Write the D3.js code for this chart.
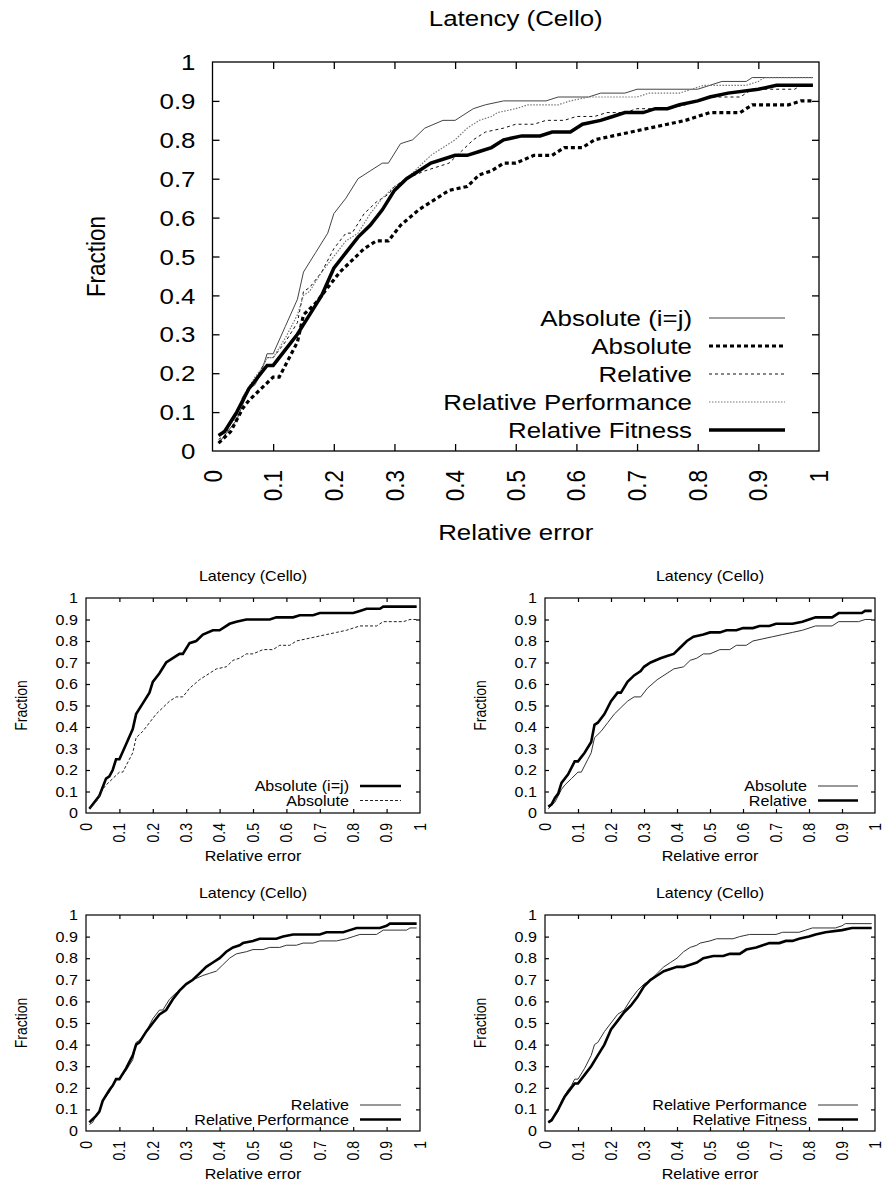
<!DOCTYPE html>
<html>
<head>
<meta charset="utf-8">
<script src="https://cdn.jsdelivr.net/npm/d3@7"></script>
<style>
  body { margin: 0; background: #fff; }
  svg { display: block; font-family: "Liberation Sans", Arial, Helvetica, sans-serif; }
</style>
</head>
<body>
<div id="chart"></div>
<script>
// tick values shared by every panel
const xTicks = [0, 0.1, 0.2, 0.3, 0.4, 0.5, 0.6, 0.7, 0.8, 0.9, 1];
const yTicks = [0, 0.1, 0.2, 0.3, 0.4, 0.5, 0.6, 0.7, 0.8, 0.9, 1];
const xTickLabels = ["0", "0.1", "0.2", "0.3", "0.4", "0.5", "0.6", "0.7", "0.8", "0.9", "1"];
const yTickLabels = ["0", "0.1", "0.2", "0.3", "0.4", "0.5", "0.6", "0.7", "0.8", "0.9", "1"];

// CDF of relative error, [x, fraction]
const absIJ = [[0.01,0.02],[0.04,0.08],[0.06,0.16],[0.07,0.17],[0.08,0.20],[0.09,0.25],[0.10,0.25],
  [0.12,0.32],[0.14,0.39],[0.15,0.46],[0.17,0.51],[0.19,0.56],[0.20,0.61],[0.22,0.65],[0.24,0.70],
  [0.26,0.72],[0.28,0.74],[0.29,0.74],[0.31,0.79],[0.33,0.80],[0.35,0.83],[0.38,0.85],[0.40,0.85],
  [0.43,0.88],[0.45,0.89],[0.48,0.90],[0.55,0.90],[0.57,0.91],[0.62,0.91],[0.64,0.92],[0.68,0.92],
  [0.70,0.93],[0.80,0.93],[0.82,0.94],[0.84,0.95],[0.88,0.95],[0.89,0.96],[0.99,0.96]];
const absolute = [[0.01,0.02],[0.03,0.05],[0.05,0.11],[0.06,0.13],[0.08,0.16],[0.10,0.19],[0.11,0.19],
  [0.13,0.25],[0.14,0.28],[0.15,0.35],[0.17,0.38],[0.19,0.42],[0.21,0.46],[0.23,0.49],[0.25,0.52],
  [0.27,0.54],[0.29,0.54],[0.31,0.58],[0.34,0.62],[0.37,0.65],[0.39,0.67],[0.42,0.68],[0.44,0.71],
  [0.46,0.72],[0.48,0.74],[0.50,0.74],[0.53,0.76],[0.56,0.76],[0.58,0.78],[0.61,0.78],[0.63,0.80],
  [0.66,0.81],[0.69,0.82],[0.72,0.83],[0.75,0.84],[0.78,0.85],[0.80,0.86],[0.82,0.87],[0.87,0.87],
  [0.89,0.89],[0.95,0.89],[0.97,0.90],[0.99,0.90]];
const relative = [[0.01,0.03],[0.02,0.04],[0.03,0.07],[0.04,0.09],[0.05,0.14],[0.07,0.18],[0.09,0.24],
  [0.10,0.24],[0.12,0.28],[0.14,0.33],[0.15,0.41],[0.16,0.42],[0.18,0.46],[0.20,0.52],[0.22,0.56],
  [0.23,0.56],[0.25,0.61],[0.27,0.64],[0.29,0.66],[0.30,0.68],[0.32,0.70],[0.35,0.72],[0.37,0.73],
  [0.39,0.74],[0.41,0.77],[0.43,0.80],[0.45,0.82],[0.48,0.83],[0.50,0.84],[0.53,0.84],[0.55,0.85],
  [0.58,0.85],[0.60,0.86],[0.63,0.86],[0.65,0.87],[0.68,0.87],[0.70,0.88],[0.75,0.88],[0.78,0.89],
  [0.80,0.90],[0.82,0.91],[0.87,0.91],[0.89,0.93],[0.96,0.93],[0.97,0.94],[0.99,0.94]];
const relPerf = [[0.01,0.04],[0.03,0.07],[0.04,0.09],[0.05,0.14],[0.07,0.19],[0.08,0.21],[0.09,0.24],
  [0.10,0.24],[0.12,0.29],[0.14,0.35],[0.15,0.40],[0.16,0.41],[0.18,0.46],[0.20,0.50],[0.22,0.54],
  [0.24,0.56],[0.26,0.61],[0.28,0.65],[0.30,0.68],[0.32,0.70],[0.34,0.73],[0.36,0.76],[0.38,0.78],
  [0.40,0.80],[0.42,0.83],[0.44,0.85],[0.46,0.86],[0.47,0.87],[0.50,0.88],[0.52,0.89],[0.57,0.89],
  [0.59,0.90],[0.62,0.91],[0.70,0.91],[0.72,0.92],[0.77,0.92],[0.79,0.93],[0.81,0.94],[0.88,0.94],
  [0.90,0.95],[0.91,0.96],[0.99,0.96]];
const relFit = [[0.01,0.04],[0.02,0.05],[0.04,0.10],[0.06,0.16],[0.07,0.18],[0.09,0.22],[0.10,0.22],
  [0.12,0.26],[0.14,0.30],[0.16,0.35],[0.18,0.40],[0.20,0.47],[0.22,0.51],[0.24,0.55],[0.26,0.58],
  [0.28,0.62],[0.30,0.67],[0.32,0.70],[0.34,0.72],[0.36,0.74],[0.38,0.75],[0.40,0.76],[0.42,0.76],
  [0.44,0.77],[0.46,0.78],[0.48,0.80],[0.51,0.81],[0.54,0.81],[0.56,0.82],[0.59,0.82],[0.61,0.84],
  [0.64,0.85],[0.66,0.86],[0.68,0.87],[0.71,0.87],[0.73,0.88],[0.75,0.88],[0.77,0.89],[0.80,0.90],
  [0.82,0.91],[0.85,0.92],[0.90,0.93],[0.93,0.94],[0.99,0.94]];

const seriesNames = ["Absolute (i=j)", "Absolute", "Relative", "Relative Performance", "Relative Fitness"];
const seriesData = [absIJ, absolute, relative, relPerf, relFit];

const W = 883, H = 1187;
const SX = 1.15; // the figure is stretched sideways, text too

// line styles
const THIN = { stroke: "#333", width: 1, dash: null };
const THICK = { stroke: "#000", width: 2.6, dash: null };
const THIN_DASH = { stroke: "#222", width: 1, dash: "3,2" };

const svg = d3.select("#chart").append("svg")
  .attr("width", W)
  .attr("height", H);

function addText(g, x, y, txt, size, anchor, rot) {
  return g.append("text")
    .attr("transform", `translate(${x},${y}) scale(${SX},1)` + (rot ? ` rotate(${rot})` : ""))
    .attr("text-anchor", anchor)
    .attr("dominant-baseline", rot ? "central" : "auto")
    .attr("font-size", size)
    .attr("fill", "#000")
    .text(txt);
}

function drawPanel(p) {
  const g = svg.append("g");
  const x = d3.scaleLinear().domain([0, 1]).range([p.left, p.right]);
  const y = d3.scaleLinear().domain([0, 1]).range([p.bottom, p.top]);
  const tl = p.tick;

  // inward ticks on all four sides (gnuplot mirror)
  g.append("g").attr("transform", `translate(0,${p.bottom})`)
    .call(d3.axisTop(x).tickValues(xTicks.slice(1, -1)).tickSize(tl).tickFormat(""))
    .call(a => a.select(".domain").remove());
  g.append("g").attr("transform", `translate(0,${p.top})`)
    .call(d3.axisBottom(x).tickValues(xTicks.slice(1, -1)).tickSize(tl).tickFormat(""))
    .call(a => a.select(".domain").remove());
  g.append("g").attr("transform", `translate(${p.left},0)`)
    .call(d3.axisRight(y).tickValues(yTicks.slice(1, -1)).tickSize(tl).tickFormat(""))
    .call(a => a.select(".domain").remove());
  g.append("g").attr("transform", `translate(${p.right},0)`)
    .call(d3.axisLeft(y).tickValues(yTicks.slice(1, -1)).tickSize(tl).tickFormat(""))
    .call(a => a.select(".domain").remove());
  g.selectAll(".tick line").attr("stroke", "#000").attr("stroke-width", p.frameW);

  // series
  const line = d3.line().x(d => x(d[0])).y(d => y(d[1]));
  p.series.forEach(s => {
    g.append("path")
      .datum(seriesData[s.idx])
      .attr("d", line)
      .attr("fill", "none")
      .attr("stroke", s.style.stroke)
      .attr("stroke-width", s.style.width)
      .attr("stroke-dasharray", s.style.dash)
      .attr("stroke-linejoin", "miter");
  });

  // frame
  g.append("rect")
    .attr("x", p.left).attr("y", p.top)
    .attr("width", p.right - p.left).attr("height", p.bottom - p.top)
    .attr("fill", "none").attr("stroke", "#000").attr("stroke-width", p.frameW);

  // tick labels
  yTicks.forEach((v, i) => addText(g, p.left - p.yLabGap, y(v) + p.fs * 0.36, yTickLabels[i], p.fs, "end"));
  xTicks.forEach((v, i) => addText(g, x(v), p.bottom + p.xLabGap, xTickLabels[i], p.fs, "end", -90));

  // titles
  const cx = (p.left + p.right) / 2;
  addText(g, cx, p.top - p.titleGap, "Latency (Cello)", p.fs, "middle");
  addText(g, cx, p.bottom + p.xTitleGap, "Relative error", p.fs, "middle");
  addText(g, p.left - p.yTitleGap, (p.top + p.bottom) / 2, "Fraction", p.fs, "middle", -90);

  // legend
  p.series.forEach((s, i) => {
    const ly = p.legY + i * p.legStep;
    addText(g, p.legTextX, ly + p.fs * 0.36, seriesNames[s.idx], p.fs, "end");
    g.append("line")
      .attr("x1", p.legX1).attr("x2", p.legX2)
      .attr("y1", ly).attr("y2", ly)
      .attr("stroke", s.style.stroke)
      .attr("stroke-width", s.style.width)
      .attr("stroke-dasharray", s.style.dash);
  });
}

// big panel with all five curves
drawPanel({
  left: 212.5, right: 819, top: 62, bottom: 451, tick: 7, frameW: 1.3, fs: 22.5,
  yLabGap: 17, xLabGap: 19, titleGap: 36, xTitleGap: 89, yTitleGap: 117,
  legY: 318, legStep: 28, legTextX: 692, legX1: 709, legX2: 785,
  series: [
    { idx: 0, style: { stroke: "#444", width: 1, dash: null } },
    { idx: 1, style: { stroke: "#000", width: 3.2, dash: "4,3" } },
    { idx: 2, style: { stroke: "#111", width: 1, dash: "3,3" } },
    { idx: 3, style: { stroke: "#777", width: 1.2, dash: "1.5,1.5" } },
    { idx: 4, style: { stroke: "#000", width: 3.5, dash: null } }
  ]
});

// four pairwise panels
const small = {
  tick: 4, frameW: 1.2, fs: 14,
  yLabGap: 8, xLabGap: 10, titleGap: 17, xTitleGap: 48, yTitleGap: 65,
  legStep: 14.5
};
const panels = [
  { left: 86, right: 420, top: 598, bottom: 813, legY: 786, legTextX: 349, legX1: 360, legX2: 401,
    series: [{ idx: 0, style: THICK }, { idx: 1, style: THIN_DASH }] },
  { left: 545, right: 875, top: 598, bottom: 813, legY: 786, legTextX: 807, legX1: 818, legX2: 858,
    series: [{ idx: 1, style: THIN }, { idx: 2, style: THICK }] },
  { left: 86, right: 420, top: 915, bottom: 1131, legY: 1105, legTextX: 349, legX1: 360, legX2: 401,
    series: [{ idx: 2, style: THIN }, { idx: 3, style: THICK }] },
  { left: 545, right: 875, top: 915, bottom: 1131, legY: 1105, legTextX: 807, legX1: 818, legX2: 858,
    series: [{ idx: 3, style: THIN }, { idx: 4, style: THICK }] }
];
panels.forEach(p => drawPanel(Object.assign({}, small, p)));
</script>
</body>
</html>
